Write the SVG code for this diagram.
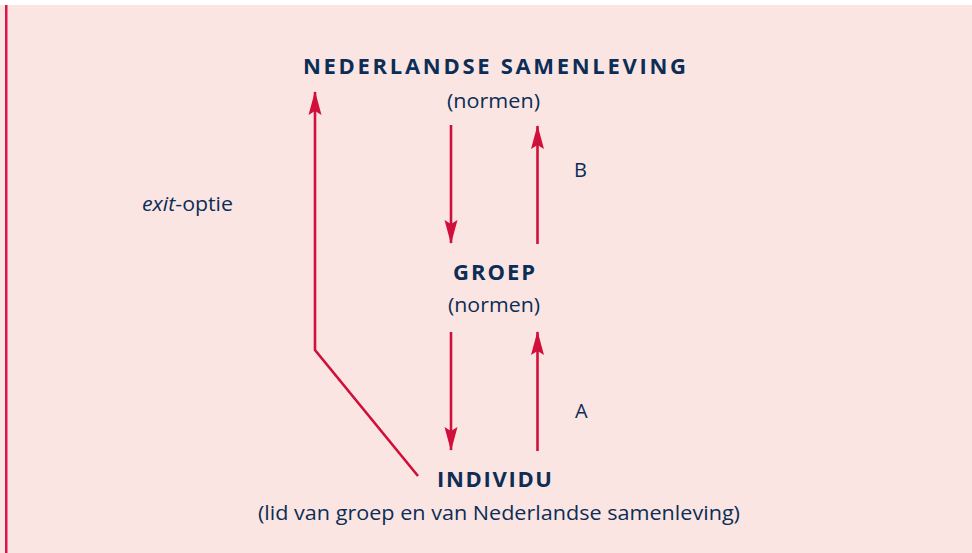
<svg xmlns="http://www.w3.org/2000/svg" width="972" height="553" viewBox="0 0 972 553">
<defs>
<style>
.t{font-family:"Open Sans","Liberation Sans",sans-serif;fill:#0c2d55}
.h{font-weight:700;font-size:22px}
.n{font-size:20px}
.c{fill:none;stroke:#d0103a;stroke-width:2.6}
</style>
<marker id="ah" markerUnits="userSpaceOnUse" markerWidth="24" markerHeight="14" viewBox="0 0 24 14" refX="23" refY="7" orient="auto">
<path d="M24 7 L0 0.5 L4 7 L0 13.5 Z" fill="#d0103a"/>
</marker>
</defs>
<rect x="0" y="5" width="972" height="548" fill="#fae5e3"/>
<rect x="5" y="5" width="2.5" height="548" fill="#d9154a"/>
<g id="connectors">
<path class="c" d="M418 476 L315 350 L315 92" marker-end="url(#ah)"/>
<path class="c" d="M451 125 L451 243" marker-end="url(#ah)"/>
<path class="c" d="M537.5 244 L537.5 126" marker-end="url(#ah)"/>
<path class="c" d="M451 332 L451 450" marker-end="url(#ah)"/>
<path class="c" d="M537.5 451 L537.5 332" marker-end="url(#ah)"/>
</g>
<g id="samenleving">
<text class="t h" x="303" y="74" textLength="383" lengthAdjust="spacing">NEDERLANDSE  SAMENLEVING</text>
<text class="t n" x="447" y="108" textLength="93" lengthAdjust="spacingAndGlyphs">(normen)</text>
</g>
<g id="groep">
<text class="t h" x="453" y="280" textLength="82" lengthAdjust="spacing">GROEP</text>
<text class="t n" x="448" y="312" textLength="92" lengthAdjust="spacingAndGlyphs">(normen)</text>
</g>
<g id="individu">
<text class="t h" x="437" y="487" textLength="115" lengthAdjust="spacing">INDIVIDU</text>
<text class="t n" x="258" y="520" textLength="482" lengthAdjust="spacingAndGlyphs">(lid van groep en van Nederlandse samenleving)</text>
</g>
<g id="labels">
<text class="t n" x="574" y="177" font-size="22">B</text>
<text class="t n" x="575" y="418" font-size="22">A</text>
<text class="t n" x="142" y="211" textLength="91" lengthAdjust="spacingAndGlyphs"><tspan font-style="italic">exit</tspan>-optie</text>
</g>
</svg>
